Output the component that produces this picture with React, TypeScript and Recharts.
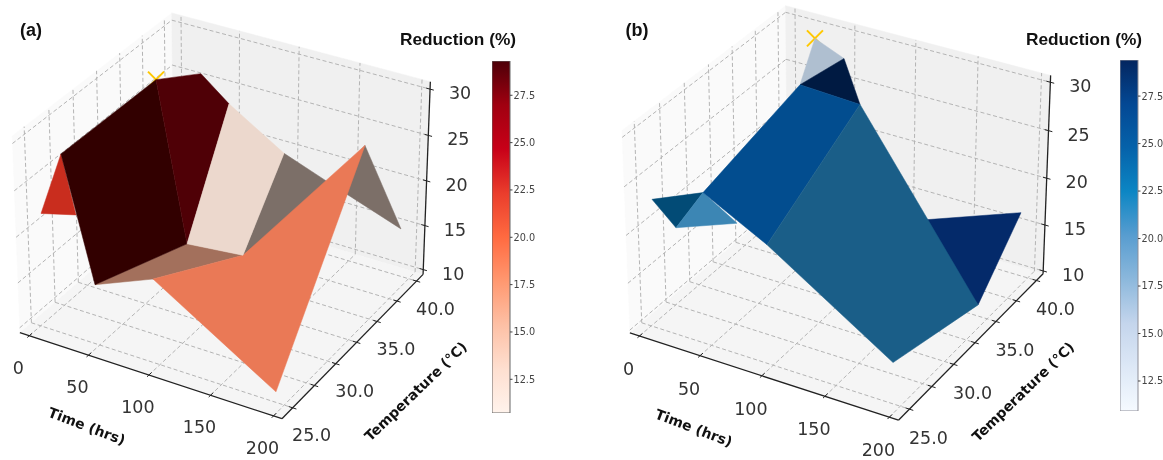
import { Bar, ComposedChart, Scatter, ScatterChart, XAxis, YAxis } from "recharts";

const timeTicks = [0, 50, 100, 150, 200];
const tempTicks = [25, 27.5, 30, 32.5, 35, 37.5, 40];
const tempLabels = [25, 30, 35, 40];
const reductionTicks = [10, 15, 20, 25, 30];
const colorbarTicks = [12.5, 15, 17.5, 20, 22.5, 25, 27.5];

// surface vertices, left panel
const aTime = [22.6, 41.8, 47.3, 94.3, 1.0, 3.6, 32.9, 26.9, 85.3, 95.4, 161.2, 192.5, 193.4, 56.5, 133.2];
const aTemp = [35, 37.5, 40, 40, 27.5, 25, 25, 27.5, 30, 35, 40, 40, 25, 30, 40];
const aReduction = [29.0, 28.4, 23.3, 19.5, 26.2, 22.0, 23.0, 12.9, 17.6, 12.3, 22.9, 14.8, 10.6, 12.5, 17.6];
const aFaces = [[4, 5, 6], [3, 9, 14], [10, 11, 14], [7, 8, 9, 13], [13, 9, 10, 12], [4, 0, 8, 7], [0, 1, 2, 8], [2, 3, 9, 8]];
const aFaceColors = ["#c92d1e", "#7c6f68", "#7c6f68", "#a3705c", "#ea7956", "#320000", "#4f0006", "#ecd8cd"];

// surface vertices, right panel
const bTime = [23, 47.2, 29, 60.6, 5.2, 4.3, 23.3, 52.9, 57.5, 194.1, 192.6, 192.9, 124.1];
const bTemp = [40, 40, 37.5, 40, 30, 25, 25, 27.5, 30, 25, 35, 40, 37.5];
const bReduction = [28.9, 27.6, 26.1, 23.2, 19.8, 23.2, 21.0, 20.5, 16.3, 14.0, 10.9, 16.5, 15.1];
const bFaces = [[5, 4, 6], [4, 6, 7], [11, 10, 12], [0, 1, 2], [1, 2, 3], [2, 3, 8, 4], [3, 8, 9, 10]];
const bFaceColors = ["#024b76", "#3c86b4", "#042a6a", "#afbfd0", "#001a42", "#024d8f", "#1a5e88"];

const redStops = ["#fff3ec", "#fedfd0", "#fdc0a5", "#ff9870", "#ff6a40", "#ea3d2c", "#c80018", "#a00010", "#4d0008"];
const blueStops = ["#f5faff", "#dde8f6", "#c4d5ec", "#8cb8dc", "#589dd0", "#0c86c4", "#0562aa", "#034894", "#04265f"];

const elev = (30 * Math.PI) / 180;
const azim = (-60 * Math.PI) / 180;
const n = [Math.cos(elev) * Math.cos(azim), Math.cos(elev) * Math.sin(azim), Math.sin(elev)];
const r = [-n[1] / Math.cos(elev), n[0] / Math.cos(elev), 0];
const s = [n[1] * r[2] - n[2] * r[1], n[2] * r[0] - n[0] * r[2], n[0] * r[1] - n[1] * r[0]];

const cellFont = "'DejaVu Sans', sans-serif";
const labelFont = "'Liberation Sans', Arial, sans-serif";

// same camera as matplotlib's default 3d view, fitted to each panel
function project(cam: any, t: number, T: number, z: number) {
  const x = (t - cam.t[0]) / (cam.t[1] - cam.t[0]) - 0.5;
  const y = (T - cam.T[0]) / (cam.T[1] - cam.T[0]) - 0.5;
  const h = ((z - cam.z[0]) / (cam.z[1] - cam.z[0]) - 0.5) * 2 * cam.h;
  const w = 1 - (n[0] * x + n[1] * y + n[2] * h) / 10;
  return { u: (r[0] * x + r[1] * y) / w, v: (s[0] * x + s[1] * y + s[2] * h) / w };
}

const noDot = () => <g />;

function Segment({ cam, from, to, stroke, width = 1, dash }: any) {
  const data = [project(cam, from[0], from[1], from[2]), project(cam, to[0], to[1], to[2])];
  return (
    <Scatter
      data={data}
      shape={noDot}
      isAnimationActive={false}
      legendType="none"
      line={{ stroke, strokeWidth: width, strokeDasharray: dash }}
    />
  );
}

function Face({ points, fill }: any) {
  return (
    <Scatter
      data={points}
      shape={noDot}
      isAnimationActive={false}
      legendType="none"
      line={(p: any) => (
        <polygon
          key="face"
          points={p.points.map((q: any) => `${q.x},${q.y}`).join(" ")}
          fill={fill}
          stroke={fill}
          strokeWidth={0.5}
        />
      )}
    />
  );
}

function Labels({ data, dx, dy, size = 17.5, weight = 400, angle = 0, color = "#333", }: any) {
  return (
    <Scatter
      data={data}
      isAnimationActive={false}
      legendType="none"
      shape={(p: any) => (
        <text
          x={p.cx + dx}
          y={p.cy + dy}
          fontFamily={cellFont}
          fontSize={size}
          fontWeight={weight}
          fill={color}
          textAnchor="middle"
          dominantBaseline="central"
          transform={angle ? `rotate(${angle} ${p.cx + dx} ${p.cy + dy})` : undefined}
        >
          {p.payload.label}
        </text>
      )}
    />
  );
}

function Surface3D({ cam, left, width, time, temp, reduction, faces, colors, peak }: any) {
  const [t0, t1] = cam.t;
  const [T0, T1] = cam.T;
  const [z0, z1] = cam.z;
  const pane = (a: number[], b: number[], c: number[], d: number[]) =>
    [a, b, c, d].map((p) => project(cam, p[0], p[1], p[2]));
  const vertex = (i: number) => project(cam, time[i], temp[i], reduction[i]);
  const grid = { stroke: "#b4b4b4", width: 1, dash: "4 2.5" };
  const axis = { stroke: "#222", width: 1.3 };
  const tick = { stroke: "#222", width: 1 };

  return (
    <div style={{ position: "absolute", left, top: 0 }}>
      <ScatterChart width={width} height={460} margin={{ top: 0, right: 0, bottom: 0, left: 0 }}>
        <XAxis
          hide
          type="number"
          dataKey="u"
          allowDataOverflow
          domain={[(left - cam.ox) / cam.sx, (left + width - cam.ox) / cam.sx]}
        />
        <YAxis hide type="number" dataKey="v" allowDataOverflow domain={[(cam.oy - 460) / cam.sy, cam.oy / cam.sy]} />

        {Face({ points: pane([t0, T0, z0], [t0, T1, z0], [t0, T1, z1], [t0, T0, z1]), fill: "#fafafa" })}
        {Face({ points: pane([t0, T1, z0], [t1, T1, z0], [t1, T1, z1], [t0, T1, z1]), fill: "#f0f0f0" })}
        {Face({ points: pane([t0, T0, z0], [t1, T0, z0], [t1, T1, z0], [t0, T1, z0]), fill: "#f5f5f5" })}

        {timeTicks.map((t) => Segment({ cam, from: [t, T0, z0], to: [t, T1, z0], ...grid }))}
        {timeTicks.map((t) => Segment({ cam, from: [t, T1, z0], to: [t, T1, z1], ...grid }))}
        {tempTicks.map((T) => Segment({ cam, from: [t0, T, z0], to: [t1, T, z0], ...grid }))}
        {tempTicks.map((T) => Segment({ cam, from: [t0, T, z0], to: [t0, T, z1], ...grid }))}
        {reductionTicks.map((z) => Segment({ cam, from: [t0, T0, z], to: [t0, T1, z], ...grid }))}
        {reductionTicks.map((z) => Segment({ cam, from: [t0, T1, z], to: [t1, T1, z], ...grid }))}

        {Segment({ cam, from: [t0, T0, z0], to: [t1, T0, z0], ...axis })}
        {Segment({ cam, from: [t1, T0, z0], to: [t1, T1, z0], ...axis })}
        {Segment({ cam, from: [t1, T1, z0], to: [t1, T1, z1], ...axis })}
        {timeTicks.map((t) => Segment({ cam, from: [t, T0 - 0.2, z0], to: [t, T0 + 0.3, z0], ...tick }))}
        {tempTicks.map((T) => Segment({ cam, from: [t1 - 3, T, z0], to: [t1 + 3, T, z0], ...tick }))}
        {reductionTicks.map((z) => Segment({ cam, from: [t1 - 3, T1, z], to: [t1 + 3, T1, z], ...tick }))}

        {Labels({ data: timeTicks.map((t) => ({ ...project(cam, t, T0, z0), label: String(t) })), dx: cam.timeLabel[0], dy: cam.timeLabel[1] })}
        {Labels({ data: tempLabels.map((T) => ({ ...project(cam, t1, T, z0), label: T.toFixed(1) })), dx: cam.tempLabel[0], dy: cam.tempLabel[1] })}
        {Labels({ data: reductionTicks.map((z) => ({ ...project(cam, t1, T1, z), label: String(z) })), dx: cam.zLabel[0], dy: cam.zLabel[1] })}
        {Labels({ data: [{ ...project(cam, 100, T0, z0), label: "Time (hrs)" }], dx: cam.timeTitle[0], dy: cam.timeTitle[1], size: 14, weight: 700, angle: 21, color: "#111" })}
        {Labels({ data: [{ ...project(cam, t1, 32.5, z0), label: "Temperature (°C)" }], dx: cam.tempTitle[0], dy: cam.tempTitle[1], size: 14, weight: 700, angle: -44, color: "#111" })}

        <Scatter
          data={[vertex(peak)]}
          isAnimationActive={false}
          legendType="none"
          shape={(p: any) => (
            <path
              d={`M${p.cx - 8} ${p.cy - 8}L${p.cx + 8} ${p.cy + 8}M${p.cx + 8} ${p.cy - 8}L${p.cx - 8} ${p.cy + 8}`}
              stroke="#ffc800"
              strokeWidth={2}
              fill="none"
            />
          )}
        />
        {faces.map((f: number[], i: number) => Face({ points: f.map(vertex), fill: colors[i] }))}
      </ScatterChart>
    </div>
  );
}

function Colorbar({ id, left, top, height, stops, lo, hi, edge }: any) {
  // axis text sits to the right of an 18px wide bar, 8px of air above and below
  return (
    <div style={{ position: "absolute", left, top: top - 8 }}>
      <ComposedChart
        width={56}
        height={height + 16}
        data={[{ name: "reduction", span: [lo, hi] }]}
        barCategoryGap={0}
        margin={{ top: 8, right: 0, bottom: 8, left: 0 }}
      >
        <defs>
          <linearGradient id={id} x1="0" y1="1" x2="0" y2="0">
            {stops.map((c: string, i: number) => (
              <stop key={c} offset={`${(i / (stops.length - 1)) * 100}%`} stopColor={c} />
            ))}
          </linearGradient>
        </defs>
        <XAxis dataKey="name" hide />
        <YAxis
          orientation="right"
          type="number"
          width={38}
          domain={[lo, hi]}
          allowDataOverflow
          ticks={colorbarTicks}
          tickFormatter={(d: number) => d.toFixed(1)}
          axisLine={false}
          tickLine={{ stroke: "#444" }}
          tickSize={2.5}
          tickMargin={1}
          tick={{ fontSize: 9.7, fill: "#444", fontFamily: cellFont }}
        />
        <Bar dataKey="span" fill={`url(#${id})`} stroke={edge} strokeWidth={1} isAnimationActive={false} />
      </ComposedChart>
    </div>
  );
}

function Caption({ x, y, size, children, color = "#111" }: any) {
  return (
    <div
      style={{
        position: "absolute",
        left: x,
        top: y,
        transform: "translate(-50%, -50%)",
        fontFamily: labelFont,
        fontWeight: 700,
        fontSize: size,
        color,
        whiteSpace: "nowrap",
      }}
    >
      {children}
    </div>
  );
}

const camA = {
  sx: 300.5, ox: 224.6, sy: 308, oy: 207.5, h: 0.365,
  t: [-8, 206.6], T: [23.8, 40.85], z: [9.45, 30.8],
  timeLabel: [-11, 32], tempLabel: [19, 27.5], zLabel: [30, 4], timeTitle: [-62, 51], tempTitle: [59, 49],
};
const camB = {
  sx: 308, ox: 839.7, sy: 312.6, oy: 204.5, h: 0.37,
  t: [-8, 207], T: [23.8, 40.85], z: [9.7, 30.7],
  timeLabel: [-11, 33], tempLabel: [19, 29], zLabel: [30, 4], timeTitle: [-68, 52], tempTitle: [48, 49],
};

export default function App() {
  return (
    <div style={{ position: "absolute", left: 0, top: 0, width: 1163, height: 460, filter: "blur(0.4px)" }}>
      <Surface3D cam={camA} left={0} width={581} time={aTime} temp={aTemp} reduction={aReduction} faces={aFaces} colors={aFaceColors} peak={0} />
      <Surface3D cam={camB} left={581} width={582} time={bTime} temp={bTemp} reduction={bReduction} faces={bFaces} colors={bFaceColors} peak={0} />
      <Colorbar id="reds" left={492} top={61} height={352} stops={redStops} lo={10.72} hi={29.31} edge="#666" />
      <Colorbar id="blues" left={1120} top={60} height={351} stops={blueStops} lo={10.92} hi={29.4} edge="#8f8f98" />
      <Caption x={31} y={30} size={18}>(a)</Caption>
      <Caption x={637} y={30} size={18}>(b)</Caption>
      <Caption x={458} y={39} size={17.3}>Reduction (%)</Caption>
      <Caption x={1084} y={39} size={17.3}>Reduction (%)</Caption>
    </div>
  );
}
